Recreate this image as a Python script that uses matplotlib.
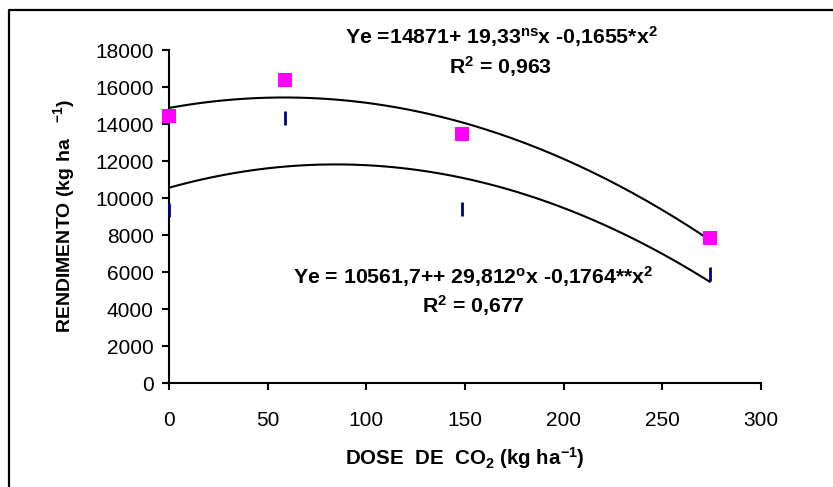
import numpy as np
import matplotlib
matplotlib.use("Agg")
import matplotlib.pyplot as plt
from matplotlib.lines import Line2D

plt.rcParams['font.family'] = ['Liberation Sans', 'DejaVu Sans']
plt.rcParams['mathtext.fontset'] = 'custom'
plt.rcParams['mathtext.rm'] = 'Liberation Sans:bold'
plt.rcParams['mathtext.it'] = 'Liberation Sans:bold'
plt.rcParams['mathtext.bf'] = 'Liberation Sans:bold'
plt.rcParams['mathtext.default'] = 'rm'

# Data
dose = [0, 59, 148.6, 274]
yield_a = [14430, 16380, 13460, 7850]   # magenta squares
yield_b = [9350, 14340, 9390, 5880]     # navy dashes

# Fitted quadratic coefficients (from the chart annotations)
coef_a = [14871, 19.33, -0.1655]
coef_b = [10561.7, 29.812, -0.1764]

x_ticks = [0, 50, 100, 150, 200, 250, 300]
y_ticks = list(range(0, 18001, 2000))

fig = plt.figure(figsize=(8.33, 4.87), dpi=100)
ax = fig.add_axes([169/833, 1 - 383.3/487, (761 - 169)/833, (383.3 - 50)/487])

xs = np.linspace(0, dose[-1], 200)
ya = coef_a[0] + coef_a[1]*xs + coef_a[2]*xs**2
yb = coef_b[0] + coef_b[1]*xs + coef_b[2]*xs**2
ax.plot(xs, ya, color='black', lw=1.5, zorder=2)
ax.plot(xs, yb, color='black', lw=1.5, zorder=2)

ax.plot(dose, yield_a, linestyle='none', marker='s', markersize=10,
        color='#FF00FF', markeredgewidth=0, clip_on=False, zorder=3)
ax.plot(dose, yield_b, linestyle='none', marker='|', markersize=10,
        color='#000080', markeredgewidth=2.0, clip_on=False, zorder=3)

ax.set_xlim(0, 300)
ax.set_ylim(0, 18000)
ax.set_xticks(x_ticks)
ax.set_yticks(y_ticks)
ax.set_xticklabels([str(v) for v in x_ticks])
ax.set_yticklabels([str(v) for v in y_ticks])
ax.tick_params(axis='both', direction='out', length=5, width=1.5, labelsize=15, colors='black')
ax.tick_params(axis='x', pad=15)
ax.tick_params(axis='y', pad=6)
for s in ['top', 'right']:
    ax.spines[s].set_visible(False)
for s in ['left', 'bottom']:
    ax.spines[s].set_linewidth(1.5)

# Annotations
fs_eq = 15.3
fig.text(501/833, 1 - 37/487, r'Ye =14871+ 19,33$^{ns}$x -0,1655*x$^{2}$',
         ha='center', va='center', fontsize=fs_eq, fontweight='bold')
fig.text(501/833, 1 - 67/487, r'R$^{2}$ = 0,963',
         ha='center', va='center', fontsize=fs_eq, fontweight='bold')
fig.text(473/833, 1 - 277/487, r'Ye = 10561,7++ 29,812$^{o}$x -0,1764**x$^{2}$',
         ha='center', va='center', fontsize=fs_eq, fontweight='bold')
fig.text(473/833, 1 - 306/487, r'R$^{2}$ = 0,677',
         ha='center', va='center', fontsize=fs_eq, fontweight='bold')

# Axis labels
fig.text(465/833, 1 - 458/487, r'DOSE  DE  CO$_{2}$ (kg ha$^{-1}$)',
         ha='center', va='center', fontsize=14.8, fontweight='bold')
fig.text(64/833, 1 - 216/487, r'RENDIMENTO (kg ha   $^{-1}$)',
         ha='center', va='center', rotation=90, fontsize=14, fontweight='bold')

# Outer frame (top and left edges visible)
fig.add_artist(Line2D([9/833, 9/833, 1.0], [0.0, 1 - 10/487, 1 - 10/487],
                      transform=fig.transFigure, color='black', lw=1.6))

fig.savefig('out.png', dpi=100)
